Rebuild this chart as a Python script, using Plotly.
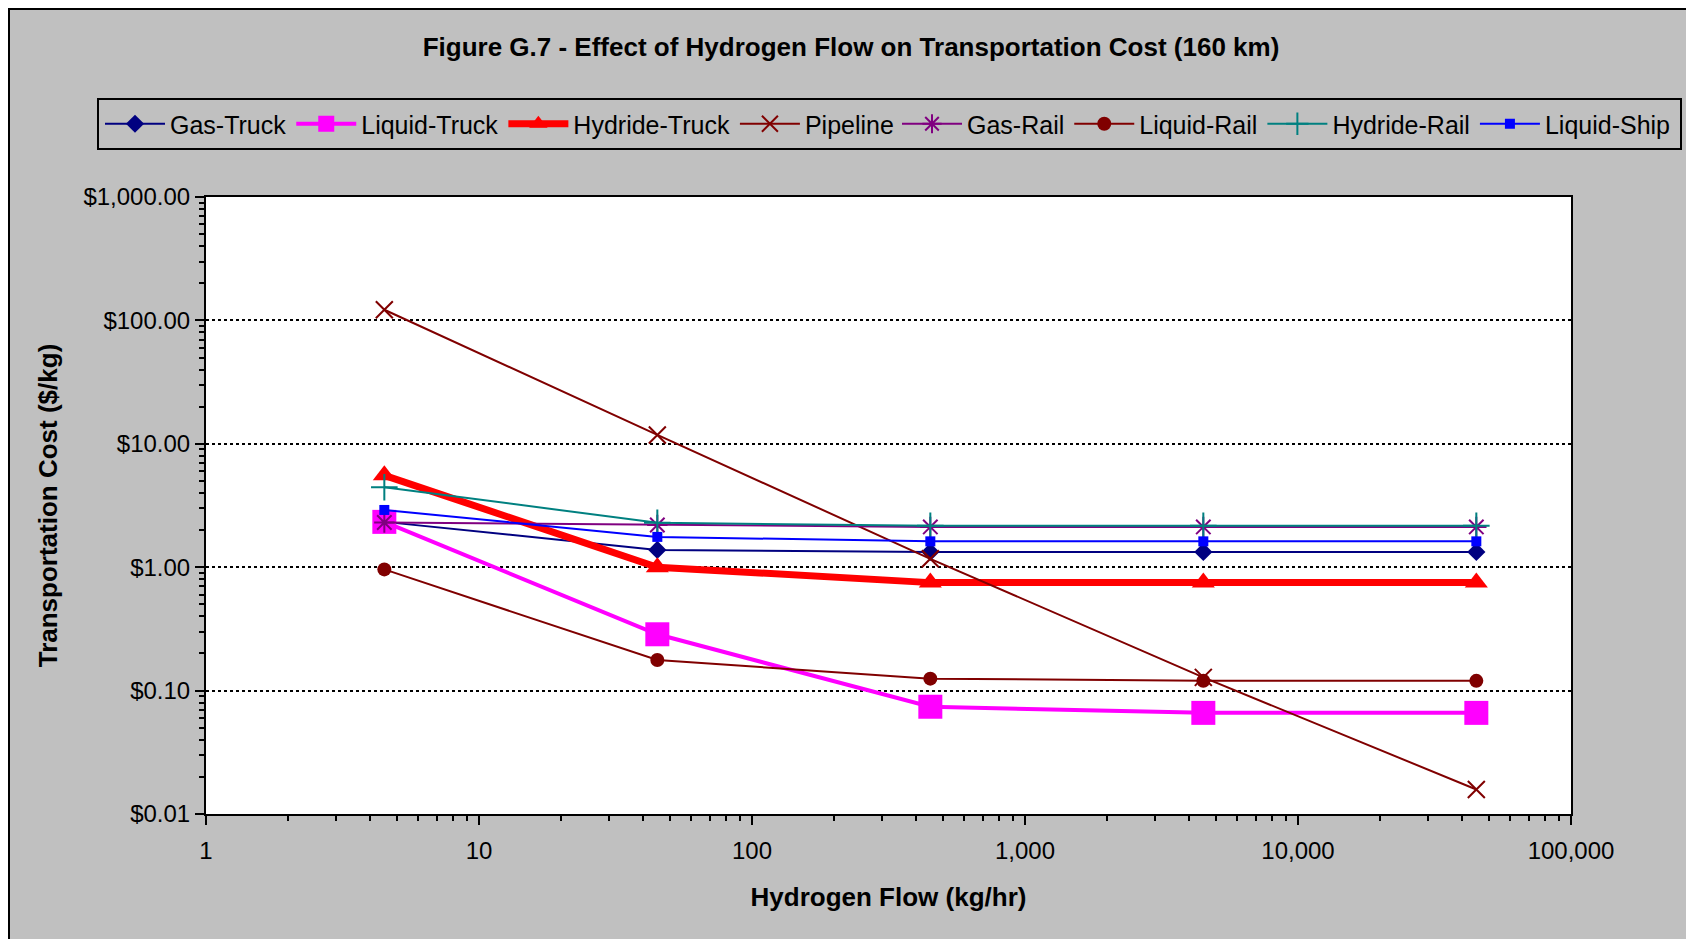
import plotly.graph_objects as go

flow = [4.5, 45, 450, 4500, 45000]

gas_truck = [2.33, 1.38, 1.33, 1.33, 1.33]
liquid_truck = [2.33, 0.286, 0.074, 0.066, 0.066]
hydride_truck = [5.55, 1.0, 0.75, 0.75, 0.75]
pipeline = [122, 11.8, 1.17, 0.128, 0.0158]
gas_rail = [2.3, 2.2, 2.12, 2.12, 2.12]
liquid_rail = [0.96, 0.177, 0.125, 0.12, 0.12]
hydride_rail = [4.45, 2.29, 2.17, 2.17, 2.17]
liquid_ship = [2.91, 1.76, 1.62, 1.62, 1.62]

y_tickvals = [0.01, 0.1, 1, 10, 100, 1000]
y_ticktext = ["$0.01", "$0.10", "$1.00", "$10.00", "$100.00", "$1,000.00"]
x_tickvals = [1, 10, 100, 1000, 10000, 100000]
x_ticktext = ["1", "10", "100", "1,000", "10,000", "100,000"]

title_text = "Figure G.7 - Effect of Hydrogen Flow on Transportation Cost (160 km)"
x_title = "Hydrogen Flow (kg/hr)"
y_title = "Transportation Cost ($/kg)"

FONT = "Liberation Sans, Arial, sans-serif"
W, H = 1694, 939
L, R, T, B = 198, 131, 189, 133
PW, PH = W - L - R, H - T - B

series = [
    ("Gas-Truck", gas_truck, "#000080", 2, dict(symbol="diamond", size=14, color="#000080"), "legend"),
    ("Liquid-Truck", liquid_truck, "#FF00FF", 4, dict(symbol="square", size=24, color="#FF00FF"), "legend"),
    ("Hydride-Truck", hydride_truck, "#FF0000", 7, dict(symbol="triangle-up", size=20, color="#FF0000"), "legend"),
    ("Pipeline", pipeline, "#800000", 2, dict(symbol="x-thin", size=17, color="#800000",
                                              line=dict(color="#800000", width=2)), "legend"),
    ("Gas-Rail", gas_rail, "#800080", 2, dict(symbol="asterisk", size=17, color="#800080",
                                             line=dict(color="#800080", width=2)), "legend2"),
    ("Liquid-Rail", liquid_rail, "#800000", 2, dict(symbol="circle", size=14, color="#800000"), "legend2"),
    ("Hydride-Rail", hydride_rail, "#008080", 2, dict(symbol="cross-thin", size=19, color="#008080",
                                                      line=dict(color="#008080", width=2)), "legend2"),
    ("Liquid-Ship", liquid_ship, "#0000FF", 2, dict(symbol="square", size=10, color="#0000FF"), "legend2"),
]

fig = go.Figure()
for name, vals, color, lw, mk, lg in series:
    fig.add_trace(go.Scatter(x=flow, y=vals, name=name, mode="lines+markers",
                             line=dict(color=color, width=lw), marker=mk, legend=lg))

def px_x(p):
    return (p - L) / PW

def px_y(p):
    return (H - B - p) / PH

legend_common = dict(orientation="h", xanchor="left", yanchor="top",
                     bgcolor="rgba(0,0,0,0)", borderwidth=0,
                     font=dict(family=FONT, size=25), itemwidth=60, tracegroupgap=0)

fig.update_layout(
    width=W, height=H,
    margin=dict(l=L, r=R, t=T, b=B),
    paper_bgcolor="#C0C0C0",
    plot_bgcolor="#FFFFFF",
    font=dict(family=FONT, size=24, color="#000000"),
    title=dict(text=title_text, x=843 / W, xanchor="center", y=1 - 38.5 / H, yanchor="middle",
               font=dict(family=FONT, size=26, color="#000000", weight="bold")),
    legend=dict(x=px_x(92), y=px_y(93), **legend_common),
    legend2=dict(x=px_x(889), y=px_y(93), **legend_common),
    showlegend=True,
    shapes=[
        dict(type="rect", xref="paper", yref="paper",
             x0=px_x(1), x1=px_x(1720), y0=px_y(960), y1=px_y(1),
             line=dict(color="#000000", width=2), fillcolor="rgba(0,0,0,0)", layer="below"),
        dict(type="rect", xref="paper", yref="paper",
             x0=px_x(90), x1=px_x(1673), y0=px_y(141), y1=px_y(91),
             line=dict(color="#000000", width=2), fillcolor="rgba(0,0,0,0)", layer="below"),
    ],
)

fig.update_xaxes(type="log", range=[0, 5], tickvals=x_tickvals, ticktext=x_ticktext,
                 showgrid=False, zeroline=False, showline=True, linecolor="#000000", linewidth=2,
                 mirror=True, ticks="outside", ticklen=9, tickwidth=2, tickcolor="#000000",
                 minor=dict(ticks="outside", ticklen=5, tickwidth=1.5, tickcolor="#000000",
                            showgrid=False, dtick="D1"),
                 ticklabelstandoff=5,
                 tickfont=dict(family=FONT, size=24),
                 title=dict(text=x_title, standoff=25,
                            font=dict(family=FONT, size=26, weight="bold")))
fig.update_yaxes(type="log", range=[-2, 3], tickvals=y_tickvals, ticktext=y_ticktext,
                 showgrid=True, gridcolor="#000000", griddash="dot", gridwidth=1.5,
                 zeroline=False, showline=True, linecolor="#000000", linewidth=2,
                 mirror=True, ticks="outside", ticklen=9, tickwidth=2, tickcolor="#000000",
                 minor=dict(ticks="outside", ticklen=5, tickwidth=1.5, tickcolor="#000000",
                            showgrid=False, dtick="D1"),
                 ticklabelstandoff=0,
                 tickfont=dict(family=FONT, size=24),
                 title=dict(text=y_title, standoff=18,
                            font=dict(family=FONT, size=26, weight="bold")))

fig.write_html("out.html")
